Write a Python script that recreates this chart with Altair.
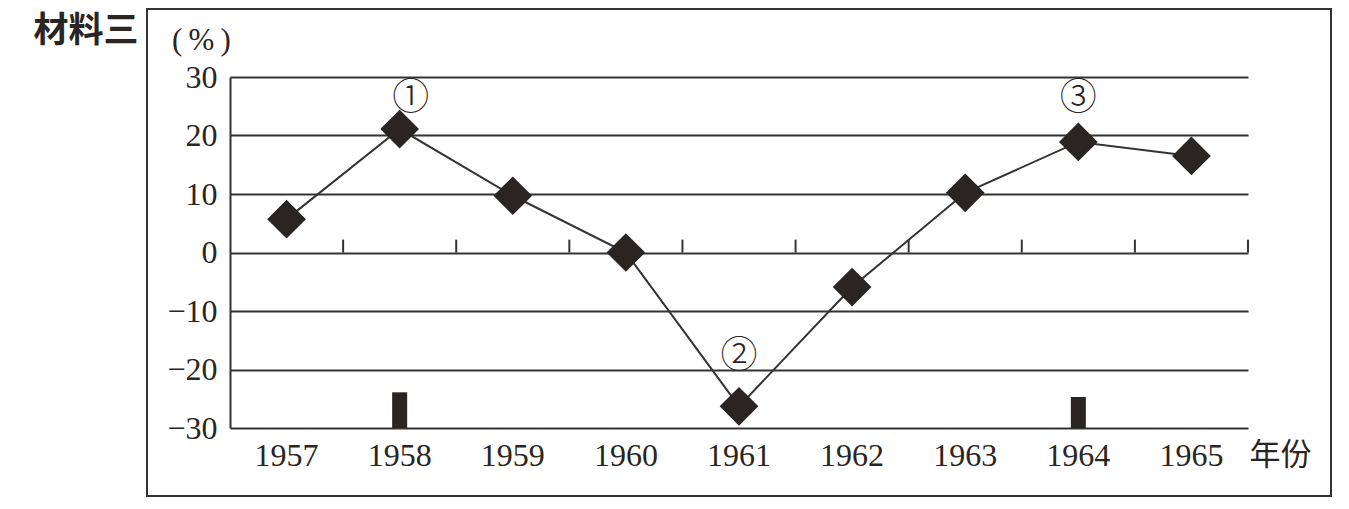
import altair as alt
import pandas as pd

# ---- data ----
years = [1957, 1958, 1959, 1960, 1961, 1962, 1963, 1964, 1965]
growth = [5.7, 21.1, 9.7, 0.0, -26.3, -5.9, 10.2, 18.9, 16.5]

bar_years = [1958, 1964]
bar_tops = [-23.9, -24.7]

y_ticks = [-30, -20, -10, 0, 10, 20, 30]
annot_labels = ["①", "②", "③"]
annot_years = [1958, 1961, 1964]

INK = "#2a2522"
LINE = "#333333"
SERIF = "Liberation Serif"
CJK = "Noto Sans CJK SC"

df = pd.DataFrame({"year": years, "value": growth})
bar_df = pd.DataFrame({"year": bar_years, "value": bar_tops})
tick_df = pd.DataFrame({"year": years})
annot_df = pd.DataFrame({"year": annot_years, "label": annot_labels}).merge(df, on="year")

xscale = alt.Scale(type="band", paddingInner=0, paddingOuter=0)
yscale = alt.Scale(domain=[-30, 30])

x_axis = alt.Axis(
    title="年份", titleX=1050, titleY=27, titleAlign="center", titleBaseline="middle",
    titleFont=CJK, titleFontSize=31, titleFontWeight="normal", titleColor=INK,
    labelFont=SERIF, labelFontSize=32, labelColor=INK, labelAngle=0, labelPadding=12,
    ticks=False, domain=False, grid=False,
)
y_axis = alt.Axis(
    values=y_ticks, title="(\u2009%\u2009)", titleAngle=0, titleX=-29, titleY=-37,
    titleAlign="center", titleBaseline="middle", titleFont=SERIF, titleFontSize=31,
    titleFontWeight="normal", titleColor=INK,
    labelFont=SERIF, labelFontSize=32, labelColor=INK, labelPadding=13,
    ticks=False, domain=True, domainColor=LINE, domainWidth=2,
    grid=True, gridColor=LINE, gridWidth=2, gridOpacity=1,
)

X = alt.X("year:O", scale=xscale, axis=x_axis, title="年份")
Y = alt.Y("value:Q", scale=yscale, axis=y_axis, title="(\u2009%\u2009)")

line = alt.Chart(df).mark_line(color=LINE, strokeWidth=2).encode(x=X, y=Y)

ticks = alt.Chart(tick_df).mark_rule(color=LINE, strokeWidth=2).encode(
    x=alt.X("year:O", scale=xscale, axis=x_axis, title="年份", bandPosition=1),
    y=alt.YDatum(0, scale=yscale, axis=y_axis, title="(\u2009%\u2009)"),
    y2=alt.datum(2.2),
)

bars = alt.Chart(bar_df).mark_bar(size=15, color=INK).encode(
    x=X, y=Y, y2=alt.datum(-30)
)

points = alt.Chart(df).mark_point(
    shape="diamond", filled=True, size=1500, color=INK, opacity=1
).encode(x=X, y=Y)

annot_offsets = [(11, -30), (0, -49), (0, -43)]
annots = []
for i, (dx, dy) in enumerate(annot_offsets):
    annots.append(
        alt.Chart(annot_df.iloc[[i]])
        .mark_text(font=CJK, fontSize=37, fontWeight=300, color=INK, dx=dx, dy=dy, baseline="middle")
        .encode(x=X, y=Y, text="label:N")
    )

frame = alt.Chart(pd.DataFrame({"k": [0]})).mark_rect(
    fill="transparent", stroke=LINE, strokeWidth=2
).encode(x=alt.value(-83), x2=alt.value(1101), y=alt.value(-68), y2=alt.value(419))

title = alt.Chart(pd.DataFrame({"t": ["材料三"]})).mark_text(
    font=CJK, fontSize=35, fontWeight="bold", color=INK, align="center", baseline="middle"
).encode(x=alt.value(-144), y=alt.value(-46), text="t:N")

chart = (
    alt.layer(line, ticks, bars, points, *annots, frame, title)
    .properties(
        width=1018,
        height=351,
        autosize=alt.AutoSizeParams(type="none"),
        padding={"left": 222, "top": 69, "right": 93, "bottom": 73},
        background="white",
    )
    .configure_view(stroke=None)
)

chart.save("out.html", embed_options={"renderer": "svg", "actions": False})
